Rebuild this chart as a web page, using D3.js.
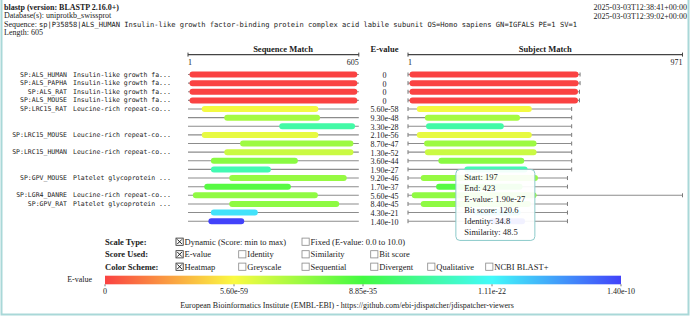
<!DOCTYPE html>
<html>
<head>
<meta charset="utf-8">
<script src="https://cdn.jsdelivr.net/npm/d3@7"></script>
<style>
  html, body { margin: 0; padding: 0; background: #fff; }
  svg { display: block; font-family: "Liberation Serif", "Times New Roman", serif; fill: #222; }
  .mono { font-family: "DejaVu Sans Mono", monospace; }
</style>
</head>
<body>
<div id="chart"></div>
<script>
// ---- data ----
const programTitle = "blastp (version: BLASTP 2.16.0+)";
const database = "uniprotkb_swissprot";
const queryDesc = "sp|P35858|ALS_HUMAN Insulin-like growth factor-binding protein complex acid labile subunit OS=Homo sapiens GN=IGFALS PE=1 SV=1";
const queryLength = 605;
const timestamps = ["2025-03-03T12:38:41+00:00", "2025-03-03T12:39:02+00:00"];

const hitIds = ["SP:ALS_HUMAN", "SP:ALS_PAPHA", "SP:ALS_RAT", "SP:ALS_MOUSE", "SP:LRC15_RAT",
  "SP:LRC15_MOUSE", "SP:LRC15_HUMAN", "SP:GPV_MOUSE", "SP:LGR4_DANRE", "SP:GPV_RAT"];
const hitDescs = ["Insulin-like growth fa...", "Insulin-like growth fa...", "Insulin-like growth fa...",
  "Insulin-like growth fa...", "Leucine-rich repeat-co...", "Leucine-rich repeat-co...",
  "Leucine-rich repeat-co...", "Platelet glycoprotein ...", "Leucine-rich repeat-co...", "Platelet glycoprotein ..."];
const hitLengths = [605, 605, 603, 603, 575, 575, 575, 560, 971, 560];

// one entry per HSP row
const hspHit = [0, 1, 2, 3, 4, 4, 4, 5, 5, 6, 6, 6, 7, 7, 8, 9, 9, 9];
const hspEvalue = [0, 0, 0, 0, 5.60e-58, 9.30e-48, 3.30e-28, 2.10e-56, 8.70e-47, 1.30e-52,
  3.60e-44, 1.90e-27, 9.20e-46, 1.70e-37, 5.60e-45, 8.40e-45, 4.30e-21, 1.40e-10];
const hspEvalueText = ["0", "0", "0", "0", "5.60e-58", "9.30e-48", "3.30e-28", "2.10e-56", "8.70e-47",
  "1.30e-52", "3.60e-44", "1.90e-27", "9.20e-46", "1.70e-37", "5.60e-45", "8.40e-45", "4.30e-21", "1.40e-10"];
const hspQStart = [1, 1, 1, 1, 45, 126, 324, 45, 183, 126, 78, 78, 144, 54, 13, 144, 78, 69];
const hspQEnd = [605, 605, 605, 605, 465, 471, 597, 465, 591, 591, 391, 294, 567, 366, 463, 540, 247, 198];
const hspSStart = [1, 1, 1, 1, 27, 56, 60, 27, 53, 56, 104, 197, 41, 96, 9, 41, 230, 286];
const hspSEnd = [605, 605, 603, 603, 438, 396, 338, 438, 455, 455, 411, 423, 460, 405, 455, 435, 398, 414];

// hovered HSP shown in the tooltip
const tipRow = 11;
const tipLines = ["Start: 197", "End: 423", "E-value: 1.90e-27", "Bit score: 120.6", "Identity: 34.8", "Similarity: 48.5"];

const legendRowLabels = ["Scale Type:", "Score Used:", "Color Scheme:"];
const scaleTypeOpts = ["Dynamic (Score: min to max)", "Fixed (E-value: 0.0 to 10.0)"];
const scoreOpts = ["E-value", "Identity", "Similarity", "Bit score"];
const schemeOpts = ["Heatmap", "Greyscale", "Sequential", "Divergent", "Qualitative", "NCBI BLAST+"];

const legendTicks = [0, 5.60e-59, 8.85e-35, 1.11e-22, 1.40e-10];
const legendTickText = ["0", "5.60e-59", "8.85e-35", "1.11e-22", "1.40e-10"];
const footer = "European Bioinformatics Institute (EMBL-EBI) - https://github.com/ebi-jdispatcher/jdispatcher-viewers";

// ---- drawing ----
const W = 691, H = 317;
const svg = d3.select("#chart").append("svg").attr("width", W).attr("height", H);

svg.append("path").attr("d", `M1.5,0V${H - 2.5}H${W - 2.5}V0`)
  .attr("fill", "none").attr("stroke", "#a9d8d8").attr("stroke-width", 2);

// header
const hd = svg.append("g").attr("font-size", 8);
hd.append("text").attr("x", 4).attr("y", 10).attr("font-weight", "bold").text(programTitle);
hd.append("text").attr("x", 4).attr("y", 18.4).text("Database(s): " + database);
const sq = hd.append("text").attr("x", 4).attr("y", 26.8);
sq.append("tspan").text("Sequence: ");
sq.append("tspan").attr("class", "mono").attr("font-size", 7.1).text(queryDesc);
hd.append("text").attr("x", 4).attr("y", 35.3).text("Length: " + queryLength);
hd.selectAll("text.ts").data(timestamps).join("text").attr("class", "ts")
  .attr("x", 687).attr("y", (d, i) => 9.5 + i * 9).attr("text-anchor", "end").text((d) => d);

// scales
const n = hspHit.length;
const rowY = d3.scalePoint().domain(d3.range(n)).range([74.5, 221.2]);
const xq = d3.scaleLinear().domain([1, queryLength]).range([189.5, 357.3]);
const xs = d3.scaleLinear().domain([1, d3.max(hitLengths)]).range([409.5, 681]);

const tickLogs = legendTicks.map((v) => (v > 0 ? Math.log10(v) : null));
tickLogs[0] = tickLogs[1] - (tickLogs[2] - tickLogs[1]);
const pos = d3.scaleLinear().domain(tickLogs).range([0, 0.25, 0.5, 0.75, 1]).clamp(true);
const hueColor = (t) => d3.hsl(t * 240, 0.95, 0.62).toString();
const colorOf = (e) => hueColor(pos(e > 0 ? Math.log10(e) : tickLogs[0]));

// column headers with range axes
function rangeAxis(x, hi, title, cx) {
  const g = svg.append("g");
  const a = x(1) - 1.5, b = x(hi) + 1.5, y = 54.6;
  g.append("line").attr("x1", a).attr("x2", b).attr("y1", y).attr("y2", y)
    .attr("stroke", "#444").attr("stroke-width", 1.4);
  g.selectAll("line.t").data([a, b]).join("line").attr("class", "t")
    .attr("x1", (d) => d).attr("x2", (d) => d).attr("y1", y - 2).attr("y2", y + 2)
    .attr("stroke", "#444").attr("stroke-width", 1);
  g.append("text").attr("x", a).attr("y", 65.2).attr("font-size", 8).text("1");
  g.append("text").attr("x", b).attr("y", 65.2).attr("font-size", 8).attr("text-anchor", "end").text(hi);
  g.append("text").attr("x", cx).attr("y", 51.5).attr("font-size", 8.5).attr("font-weight", "bold")
    .attr("text-anchor", "middle").text(title);
}
rangeAxis(xq, queryLength, "Sequence Match", 283);
rangeAxis(xs, d3.max(hitLengths), "Subject Match", (xs.range()[0] + xs.range()[1]) / 2);
svg.append("text").attr("x", 384.5).attr("y", 51.5).attr("font-size", 8.5).attr("font-weight", "bold")
  .attr("text-anchor", "middle").text("E-value");

// rows
const rows = d3.range(n).map((i) => ({
  i, hit: hspHit[i], first: i === 0 || hspHit[i] !== hspHit[i - 1],
  e: hspEvalue[i], eText: hspEvalueText[i],
  qs: hspQStart[i], qe: hspQEnd[i], ss: hspSStart[i], se: hspSEnd[i], len: hitLengths[hspHit[i]]
}));

function track(g, x, lo, hi, y) {
  const a = x(lo) - 1.5, b = x(hi) + 1.5;
  g.append("line").attr("x1", a).attr("x2", b).attr("y1", y).attr("y2", y)
    .attr("stroke", "#8c8c8c").attr("stroke-width", 1.1);
  g.selectAll("line.t").data([a, b]).join("line").attr("class", "t")
    .attr("x1", (d) => d).attr("x2", (d) => d).attr("y1", y - 2).attr("y2", y + 2)
    .attr("stroke", "#666").attr("stroke-width", 0.9);
}

const gRows = svg.append("g");
rows.forEach((r) => {
  const y = rowY(r.i);
  const g = gRows.append("g");
  if (r.first) {
    g.append("text").attr("class", "mono").attr("font-size", 6.5).attr("x", 67).attr("y", y + 2)
      .attr("text-anchor", "end").text(hitIds[r.hit]);
    g.append("text").attr("class", "mono").attr("font-size", 6.5).attr("x", 73).attr("y", y + 2)
      .text(hitDescs[r.hit]);
  }
  track(g, xq, 1, queryLength, y);
  g.append("rect").attr("x", xq(r.qs)).attr("width", xq(r.qe) - xq(r.qs)).attr("y", y - 3).attr("height", 6)
    .attr("rx", 3).attr("fill", colorOf(r.e));
  g.append("text").attr("x", 384.5).attr("y", y + 3.4).attr("font-size", 8).attr("text-anchor", "middle").text(r.eText);
  track(g, xs, 1, r.len, y);
  g.append("rect").attr("x", xs(r.ss)).attr("width", xs(r.se) - xs(r.ss)).attr("y", y - 3).attr("height", 6)
    .attr("rx", 3).attr("fill", colorOf(r.e));
});

// tooltip over the hovered subject HSP
const tip = svg.append("g").attr("transform", `translate(${xs(hspSStart[tipRow]) - 8.5},${rowY(tipRow)})`);
tip.append("rect").attr("width", 79).attr("height", 71).attr("rx", 4)
  .attr("fill", "rgba(255,255,255,0.93)").attr("stroke", "#8ccaca").attr("stroke-width", 1);
tip.selectAll("text").data(tipLines).join("text").attr("x", 8.5).attr("y", (d, i) => 10.7 + i * 10.95)
  .attr("font-size", 8.5).text((d) => d);

// legend controls
const colX = [176, 238.7, 302, 370.7, 427.7, 485.7];
const legendY = [241.7, 254.3, 266.7];
const optRows = [
  scaleTypeOpts.map((t, k) => ({ t, col: k * 2, on: k === 0 })),
  scoreOpts.map((t, k) => ({ t, col: k, on: k === 0 })),
  schemeOpts.map((t, k) => ({ t, col: k, on: k === 0 }))
];
const gl = svg.append("g").attr("font-size", 8.5);
legendRowLabels.forEach((lab, r) => {
  const cy = legendY[r];
  gl.append("text").attr("x", 105).attr("y", cy + 2.9).attr("font-weight", "bold").text(lab);
  optRows[r].forEach((o) => {
    const bx = colX[o.col];
    gl.append("rect").attr("x", bx).attr("y", cy - 3.6).attr("width", 7.2).attr("height", 7.2)
      .attr("fill", "#fff").attr("stroke", o.on ? "#222" : "#888").attr("stroke-width", 0.8);
    if (o.on) {
      gl.append("path").attr("d", `M${bx + 1.3},${cy - 2.3}L${bx + 5.9},${cy + 2.3}M${bx + 5.9},${cy - 2.3}L${bx + 1.3},${cy + 2.3}`)
        .attr("stroke", "#222").attr("stroke-width", 1);
    }
    gl.append("text").attr("x", bx + 8.6).attr("y", cy + 2.9).text(o.t);
  });
});

// colour bar
const bx = d3.scaleLinear().domain([0, 1]).range([105, 621]);
const grad = svg.append("defs").append("linearGradient").attr("id", "heat");
grad.selectAll("stop").data(d3.range(0, 1.0001, 0.05)).join("stop")
  .attr("offset", (d) => d).attr("stop-color", (d) => hueColor(d));
svg.append("rect").attr("x", bx(0)).attr("width", bx(1) - bx(0)).attr("y", 275.7).attr("height", 8.6)
  .attr("fill", "url(#heat)");
svg.append("text").attr("x", 92).attr("y", 282.3).attr("font-size", 8).attr("text-anchor", "end").text("E-value");
const gt = svg.append("g").attr("font-size", 8);
legendTicks.forEach((v, k) => {
  const x = bx(pos(v > 0 ? Math.log10(v) : tickLogs[0]));
  gt.append("line").attr("x1", x).attr("x2", x).attr("y1", 284.3).attr("y2", 286.3).attr("stroke", "#555").attr("stroke-width", 0.8);
  gt.append("text").attr("x", x).attr("y", 293.8).attr("text-anchor", "middle").text(legendTickText[k]);
});

svg.append("text").attr("x", 347).attr("y", 307.6).attr("font-size", 8).attr("text-anchor", "middle").text(footer);
</script>
</body>
</html>
